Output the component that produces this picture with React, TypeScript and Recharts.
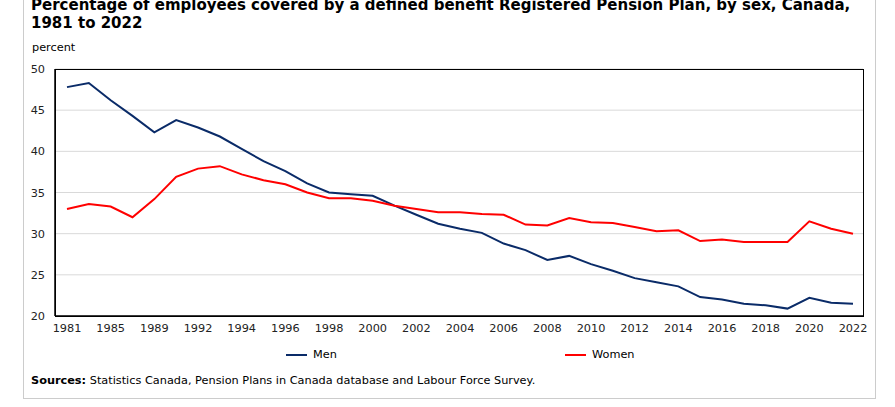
import { LineChart, Line, XAxis, YAxis, CartesianGrid } from 'recharts';

const years = [
  '1981', '1983', '1985', '1987', '1989', '1991', '1992', '1993', '1994', '1995',
  '1996', '1997', '1998', '1999', '2000', '2001', '2002', '2003', '2004', '2005',
  '2006', '2007', '2008', '2009', '2010', '2011', '2012', '2013', '2014', '2015',
  '2016', '2017', '2018', '2019', '2020', '2021', '2022',
];

const men = [
  47.8, 48.3, 46.2, 44.3, 42.3, 43.8, 42.9, 41.8, 40.3, 38.8,
  37.6, 36.1, 35.0, 34.8, 34.6, 33.4, 32.3, 31.2, 30.6, 30.1,
  28.8, 28.0, 26.8, 27.3, 26.3, 25.5, 24.6, 24.1, 23.6, 22.3,
  22.0, 21.5, 21.3, 20.9, 22.2, 21.6, 21.5,
];

const women = [
  33.0, 33.6, 33.3, 32.0, 34.2, 36.9, 37.9, 38.2, 37.2, 36.5,
  36.0, 35.0, 34.3, 34.3, 34.0, 33.4, 33.0, 32.6, 32.6, 32.4,
  32.3, 31.1, 31.0, 31.9, 31.4, 31.3, 30.8, 30.3, 30.4, 29.1,
  29.3, 29.0, 29.0, 29.0, 31.5, 30.6, 30.0,
];

const yTicks = [20, 25, 30, 35, 40, 45, 50];

const series = [
  { key: 'men', name: 'Men', color: '#0a2b68' },
  { key: 'women', name: 'Women', color: '#ff0000' },
];

const data = years.map((year, i) => ({ year, men: men[i], women: women[i] }));

const FONT = 'Verdana, "DejaVu Sans", sans-serif';

// plot box, used for the black frame around the plotting area
const PLOT = { left: 55, top: 69, right: 863, bottom: 316 };

export default function App() {
  return (
    <div
      style={{
        position: 'absolute',
        left: 0,
        top: 0,
        width: 895,
        height: 407,
        overflow: 'hidden',
        background: '#fff',
        fontFamily: FONT,
        color: '#000',
      }}
    >
      {/* outer frame */}
      <div
        style={{
          position: 'absolute',
          left: 23,
          top: -20,
          width: 853,
          height: 419,
          border: '1px solid #cccccc',
          boxSizing: 'border-box',
        }}
      />
      <div
        style={{
          position: 'absolute',
          left: 31,
          top: -4,
          width: 860,
          fontSize: 15,
          fontWeight: 'bold',
          lineHeight: '18px',
          whiteSpace: 'nowrap',
        }}
      >
        Percentage of employees covered by a defined benefit Registered Pension Plan, by sex, Canada,
        <br />
        1981 to 2022
      </div>
      <div style={{ position: 'absolute', left: 32, top: 41, fontSize: 11.3 }}>percent</div>

      <div style={{ position: 'absolute', left: 0, top: 0 }}>
        <LineChart
          width={895}
          height={346}
          data={data}
          margin={{ top: PLOT.top, right: 895 - PLOT.right, bottom: 0, left: 25 }}
        >
          <CartesianGrid vertical={false} stroke="#d9d9d9" />
          <XAxis
            dataKey="year"
            interval={1}
            padding={{ left: 12, right: 10 }}
            axisLine={{ stroke: '#000', strokeWidth: 1.5 }}
            tickLine={false}
            tick={{ fill: '#222', fontSize: 11.3, fontFamily: FONT }}
            height={30}
          />
          <YAxis
            domain={[20, 50]}
            ticks={yTicks}
            width={30}
            tickMargin={4}
            axisLine={{ stroke: '#000', strokeWidth: 1.5 }}
            tickLine={false}
            tick={{ fill: '#222', fontSize: 11.3, fontFamily: FONT }}
          />
          {series.map((s) => (
            <Line
              key={s.key}
              type="linear"
              dataKey={s.key}
              name={s.name}
              stroke={s.color}
              strokeWidth={2}
              dot={false}
              isAnimationActive={false}
            />
          ))}
        </LineChart>
      </div>

      {/* black frame round the plot area */}
      <div
        style={{
          position: 'absolute',
          left: PLOT.left - 0.5,
          top: PLOT.top - 0.5,
          width: PLOT.right - PLOT.left + 1,
          height: PLOT.bottom - PLOT.top + 1,
          border: '1.5px solid #000',
          boxSizing: 'border-box',
          pointerEvents: 'none',
        }}
      />

      {/* legend */}
      {series.map((s, i) => (
        <div
          key={s.key}
          style={{
            position: 'absolute',
            left: i === 0 ? 286 : 565,
            top: 348,
            display: 'flex',
            alignItems: 'center',
            fontSize: 11.3,
          }}
        >
          <span style={{ display: 'inline-block', width: 21, height: 2, background: s.color, marginRight: 6 }} />
          {s.name}
        </div>
      ))}

      <div style={{ position: 'absolute', left: 31, top: 374, fontSize: 11.3 }}>
        <b>Sources:</b> Statistics Canada, Pension Plans in Canada database and Labour Force Survey.
      </div>
    </div>
  );
}
